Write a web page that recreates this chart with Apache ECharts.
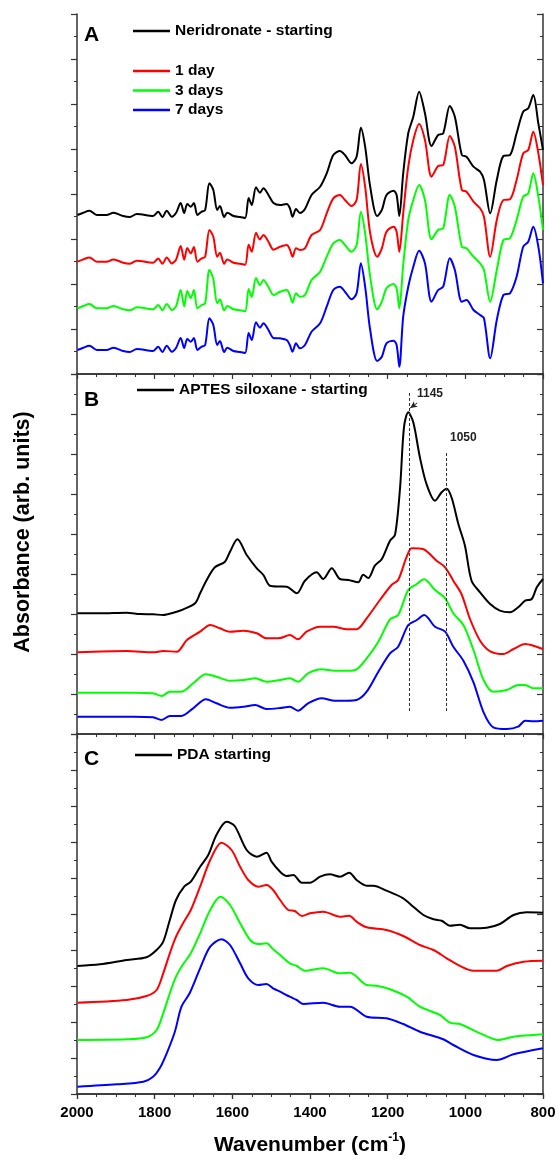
<!DOCTYPE html>
<html>
<head>
<meta charset="utf-8">
<script src="https://cdn.jsdelivr.net/npm/echarts@6/dist/echarts.min.js"></script>
<style>
html,body{margin:0;padding:0;background:#fff;}
#chart{width:559px;height:1160px;}
</style>
</head>
<body>
<div id="chart"></div>
<script>
// ---------- DATA (absorbance, arbitrary units; x = wavenumber cm-1) ----------
const xTicks = [2000, 1800, 1600, 1400, 1200, 1000, 800];

// Panel A : Neridronate
const wnA = [1999,1984,1968,1949,1924,1906,1881,1864,1846,1804,1791,1780,1769,1756,1745,1733,1724,1716,1707,1699,
  1690,1679,1670,1659,1649,1639,1632,1621,1613,1597,1580,1567,1558,1550,1539,1529,1520,1507,1494,
  1477,1460,1452,1445,1436,1426,1413,1396,1374,1357,1340,1323,1310,1293,1280,1269,1258,1245,1227,1215,
  1203,1185,1177,1170,1160,1147,1134,1119,1104,1087,1070,1057,1040,1027,1009,997,979,962,952,936,
  919,902,885,868,851,838,825,812,800];
const neriStart = [159,161.3,163.3,159,159,161.3,158,157,160,158,162.3,157,163.3,157.3,161,171,161,170,167.3,171,
  159,162.3,164,190.7,184,164,168,157,161.3,158,157,156,176,169,186.7,181.3,185.7,179,171,
  169,170,166,157.3,165,161,165,179,187.3,200.7,219,223,219,210.7,217.3,246.3,227.3,187.3,158,164,
  179,183.3,179,158,200.7,240.7,257.3,282.3,260.7,228,239,240.7,268,257.3,219,217.3,207.3,202.3,194,160.7,
  194,218,219,240.7,262.3,265.7,279,250.7,224];
const neri1d = [112.3,114.6,116.6,112.3,112.3,114.6,111.3,110.3,113.3,111.3,115.6,110.3,116.6,110.6,114.3,128,114.3,126,120.6,127,
  112.3,115.6,117.3,144,137.3,117.3,121.3,110.3,114.6,111.3,110.3,109.3,129.3,122.3,141.3,134.6,139,132.3,124.3,
  127.3,129,124.7,117.3,125.7,124,125.7,139,144,160.7,175.7,179,174,168,174,210,187.3,140.7,117.3,125.7,
  142.3,147.3,142.3,122.3,160.7,207.3,234,250,234,197.3,208,209,238,227.3,184,182.3,172.3,165.7,157.3,117.3,
  154,174,174.7,194,220.7,224,242.3,220.7,189];
const neri3d = [65.7,68,70,65.7,65.7,68,64.7,63.7,66.7,64.7,69,63.7,70,64,67.7,84,67.7,83,76,84,
  65.7,69,70.7,104,95,70.7,74.7,63.7,68,64.7,63.7,62.7,85,77,96,89,94,87,79,
  82.3,84,79,71.3,80.7,77.3,79,94,102.3,117.3,130.7,134,129,122.3,129,162.3,140.7,97.3,64.7,72.3,
  85.7,90,85.7,65.7,109,154,174,189,174,134.7,144,145.7,179,167.3,127.3,125.7,117.3,110.7,104,72.3,
  104,134,135.7,154,177.3,180.7,200.7,177.3,144];
const neri7d = [24,26.3,28.3,24,24,26.3,23,22,25,23,27.3,22,28.3,22.3,26,36,26,35,32.3,36,
  24,27.3,29,55.7,49,29,33,22,26.3,23,22,21,41,34,51.7,46.3,50.7,44,36,
  35.7,34,29,22.3,30.7,25.7,29,42.3,50.7,67.3,84,87.3,82.3,74.7,80.7,110.7,87.3,44,13,17.3,
  30.7,33.3,29,7.3,57.3,87.3,107.3,123.3,110.7,72.3,84,87.3,115.7,104,72.3,74,64,59,55.7,15.7,
  54,79,80.7,97.3,127.3,132.3,147.3,127.3,90.7];

// Panel B : APTES siloxane
const wnBstart = [1999,1941,1872,1838,1804,1778,1752,1726,1696,1683,1666,1645,1619,1606,1587,1563,1537,1520,1503,1477,
  1460,1434,1413,1383,1366,1344,1323,1301,1276,1263,1250,1233,1215,1194,1181,1168,1158,1147,1134,1117,
  1100,1078,1061,1048,1035,1018,1001,984,962,936,911,885,864,846,829,816,800];
const aptesStart = [120.7,120.7,121.3,120,119.7,119,121.3,124.7,130.7,140.7,154,166.7,172.3,182.3,194.7,179,165.7,159,148.3,147.5,
  147.3,140.7,153.3,161.7,155,165.7,155,154,151.7,159.3,156,168.3,175,193.3,199.3,246.7,306.7,321.7,311.7,276.7,
  250,233.3,241.7,245.3,236,210,188.3,153.3,141.7,130,123.3,121.7,126.7,133.3,135,146.7,155];
const wnB1d = [1999,1872,1804,1778,1743,1717,1683,1657,1632,1606,1571,1537,1512,1477,1452,1431,1409,1374,1340,1305,
  1280,1254,1220,1190,1173,1151,1138,1108,1074,1052,1031,1010,988,962,936,902,876,846,825,800];
const aptes1d = [81.7,83,81.7,83,82.3,94,102.3,109,105.7,102.3,103.3,100.7,95.7,96,99,94.7,102.3,107.3,107.3,104.7,
  104.7,115.7,134,149,154,177.3,185.7,184.7,173.3,166.7,153.3,140,115,93.3,82.7,80,85,90,88.3,85];
const wnB37d = [1999,1855,1804,1782,1761,1731,1701,1668,1641,1606,1571,1541,1512,1477,1452,1431,1405,1370,1336,1305,
  1280,1254,1224,1194,1173,1147,1125,1106,1078,1052,1031,1005,979,953,928,893,864,846,825,800];
const aptes3d = [41.3,41.3,40.7,38,42.3,42.3,50.7,59.7,57.3,53.3,54,55.7,52.3,54,55.7,52.3,60.7,64.7,63.3,63.3,
  64.7,75.7,92.3,114.7,119,144,150,154.7,144,135.7,120.7,109,84,54,42.3,44,49,49,45.7,45.7];
const aptes7d = [17.3,17.3,16.7,14,18,18,25.7,34.7,30.7,26.3,27.3,29,25,26,27.3,23.3,30.7,35.7,33.3,33.3,
  34,42.3,62.3,80.7,87.3,109,114,119,107.3,102.3,87.3,73.3,51.7,21.7,6.7,5,7.3,13.3,12.7,13.3];
const peakMarks = [1145, 1050];

// Panel C : PDA
const wnCstart = [1999,1941,1872,1821,1795,1778,1761,1745,1724,1707,1683,1662,1641,1615,1594,1563,1537,1512,1499,1477,
  1460,1443,1421,1400,1374,1349,1323,1299,1280,1254,1237,1203,1160,1134,1108,1082,1061,1040,1014,988,
  945,911,876,842,800];
const pdaStart = [128,129.7,134,136.7,144,152.3,174,194,207.3,212.3,227.3,239,259,272.3,268,244,237.3,241.3,232.3,222.3,
  218,219,211.3,211.3,217.3,219.7,217.3,221.3,214,208.3,208.3,203.3,195.7,187.3,179,174.7,173.3,168.3,169.3,165.7,
  166.3,170,179,181.7,181.3];
const wnC1d = [1999,1872,1821,1795,1778,1761,1745,1728,1707,1683,1657,1628,1602,1580,1559,1533,1512,1495,1477,1456,
  1439,1421,1400,1366,1323,1299,1280,1254,1203,1160,1117,1082,1048,1010,979,919,893,850,800];
const pda1d = [91.3,94,98,104,120.7,140.7,157.3,170,184,207.3,234,251.3,244,227.3,214,207.3,209,204,194,184,
  183,178,180.7,182.3,177.3,178.3,172.3,166.7,164,158,149,144,135.7,127.3,123.3,123.3,128,132.3,133.3];
const wnC3d = [1999,1872,1821,1795,1778,1761,1745,1728,1707,1683,1657,1631,1606,1580,1554,1533,1512,1495,1477,1452,
  1434,1413,1366,1323,1297,1254,1229,1194,1151,1117,1065,1040,1014,962,915,876,800];
const pda3d = [54,54.7,56.7,64,80.7,100.7,117.3,129,140.7,160.7,184,197.3,189,170.7,154,150,150.7,144.7,139,130.7,
  128,123.3,125.7,120.7,121.3,109,108.3,104.7,97.3,87.3,79,71.3,70,60.7,54,57.3,59.7];
const wnC7d = [1999,1898,1829,1804,1787,1769,1748,1731,1710,1683,1657,1628,1606,1580,1559,1533,1512,1495,1477,1452,
  1434,1417,1366,1323,1297,1254,1203,1160,1117,1057,1031,979,919,876,800];
const pda7d = [7.3,9.7,12.3,17.3,25.7,40.7,62.3,87.3,100.7,125.7,147.3,154.7,149,130.7,115.7,109,110,105.7,102.3,97.3,
  94,90,91.3,87.3,87.3,77.3,75.7,70,62.3,54.7,49,39,34,39.7,45.7];

// ---------- CHART ----------
const FONT = 'Liberation Sans, Arial, Helvetica, sans-serif';
const COLORS = {start:'#000000', d1:'#ff0000', d3:'#00ff00', d7:'#0000ff'};
const pair = (xs, ys) => xs.map((x, i) => [x, ys[i]]);
const yIntervals = [45, 40, 36];
const axisLine = {show:true, lineStyle:{color:'#333', width:1.5}};

const grids = [0,1,2].map(i => ({left:77, right:16, top:14 + 360*i, height:360}));

const xAxes = [];
const yAxes = [];
[0,1,2].forEach(i => {
  const isLast = i === 2;
  xAxes.push({
    type:'value', gridIndex:i, position:'bottom', min:800, max:2000, interval:200, inverse:true,
    axisLine, splitLine:{show:false},
    axisTick:{show:isLast, inside:false, length:5, lineStyle:{color:'#333', width:1.2}},
    minorTick:{show:isLast, splitNumber:4, length:3, lineStyle:{color:'#333', width:1}},
    axisLabel:{show:isLast, margin:11, color:'#000', fontFamily:FONT, fontWeight:'bold', fontSize:15,
      customValues: xTicks, formatter: v => String(v)},
    name: isLast ? 'Wavenumber (cm{sup|-1})' : '',
    nameLocation:'middle', nameGap:38,
    nameTextStyle:{color:'#000', fontFamily:FONT, fontWeight:'bold', fontSize:21, lineHeight:26,
      rich:{sup:{fontFamily:FONT, fontWeight:'bold', fontSize:12, verticalAlign:'top', lineHeight:26, padding:[0,0,11,0]}}}
  });
  xAxes.push({
    type:'value', gridIndex:i, position:'top', min:800, max:2000, interval:200, inverse:true,
    axisLine, splitLine:{show:false},
    axisTick:{show:true, inside:true, length:5, lineStyle:{color:'#333', width:1.2}},
    minorTick:{show:true, splitNumber:4, length:3, lineStyle:{color:'#333', width:1}},
    axisLabel:{show:false}
  });
  yAxes.push({
    type:'value', gridIndex:i, position:'left', min:0, max:360, interval:yIntervals[i],
    axisLine, splitLine:{show:false},
    axisTick:{show:true, inside:false, length:6, lineStyle:{color:'#333', width:1.2}},
    minorTick:{show:true, splitNumber:2, length:3, lineStyle:{color:'#333', width:1}},
    axisLabel:{show:false}
  });
  yAxes.push({
    type:'value', gridIndex:i, position:'right', min:0, max:360, interval:yIntervals[i],
    axisLine, splitLine:{show:false},
    axisTick:{show:true, inside:true, length:6, lineStyle:{color:'#333', width:1.2}},
    minorTick:{show:true, splitNumber:2, length:3, lineStyle:{color:'#333', width:1}},
    axisLabel:{show:false}
  });
});

function line(name, panel, data, color, extra) {
  return Object.assign({
    name, type:'line', xAxisIndex: 2*panel, yAxisIndex: 2*panel, data,
    showSymbol:false, symbol:'none', smooth:0.3, silent:true, animation:false,
    lineStyle:{color, width:2}, itemStyle:{color}, z:3
  }, extra || {});
}

const dashStyle = {type:[3,2], color:'#333', width:1};
const markLines = {
  silent:true, symbol:'none', label:{show:false}, animation:false,
  data:[
    [{coord:[peakMarks[0], 341], lineStyle:dashStyle}, {coord:[peakMarks[0], 22]}],
    [{coord:[peakMarks[1], 281], lineStyle:dashStyle}, {coord:[peakMarks[1], 22]}],
    [{coord:[1124, 331], symbol:'none', lineStyle:{type:'solid', color:'#222', width:1}},
     {coord:[1142, 326], symbol:'arrow', symbolSize:[5,7]}]
  ]
};

const series = [
  line('Neridronate - starting', 0, pair(wnA, neriStart), COLORS.start),
  line('1 day', 0, pair(wnA, neri1d), COLORS.d1),
  line('3 days', 0, pair(wnA, neri3d), COLORS.d3),
  line('7 days', 0, pair(wnA, neri7d), COLORS.d7),
  line('APTES siloxane - starting', 1, pair(wnBstart, aptesStart), COLORS.start, {markLine: markLines}),
  line('APTES 1 day', 1, pair(wnB1d, aptes1d), COLORS.d1),
  line('APTES 3 days', 1, pair(wnB37d, aptes3d), COLORS.d3),
  line('APTES 7 days', 1, pair(wnB37d, aptes7d), COLORS.d7),
  line('PDA starting', 2, pair(wnCstart, pdaStart), COLORS.start),
  line('PDA 1 day', 2, pair(wnC1d, pda1d), COLORS.d1),
  line('PDA 3 days', 2, pair(wnC3d, pda3d), COLORS.d3),
  line('PDA 7 days', 2, pair(wnC7d, pda7d), COLORS.d7)
];

const legendBase = {
  icon:'rect', itemWidth:37, itemHeight:2.5, selectedMode:false, padding:0,
  textStyle:{color:'#000', fontFamily:FONT, fontWeight:'bold', fontSize:15.5, lineHeight:17}
};

const option = {
  backgroundColor:'#ffffff',
  animation:false,
  grid: grids,
  xAxis: xAxes,
  yAxis: yAxes,
  legend: [
    Object.assign({}, legendBase, {data:['Neridronate - starting'], left:133, top:22.5}),
    Object.assign({}, legendBase, {data:['1 day','3 days','7 days'], orient:'vertical', left:133, top:62.5, itemGap:2.5}),
    Object.assign({}, legendBase, {data:['APTES siloxane - starting'], left:137, top:381.5}),
    Object.assign({}, legendBase, {data:['PDA starting'], left:135, top:746.5})
  ],
  graphic: [
    {type:'text', x:84, y:35, style:{text:'A', font:'bold 21px ' + FONT, fill:'#000', textVerticalAlign:'middle'}},
    {type:'text', x:84, y:400, style:{text:'B', font:'bold 21px ' + FONT, fill:'#000', textVerticalAlign:'middle'}},
    {type:'text', x:84, y:759, style:{text:'C', font:'bold 21px ' + FONT, fill:'#000', textVerticalAlign:'middle'}},
    {type:'text', x:417, y:394, style:{text:'1145', font:'bold 12px ' + FONT, fill:'#222', textVerticalAlign:'middle'}},
    {type:'text', x:450, y:438, style:{text:'1050', font:'bold 12px ' + FONT, fill:'#222', textVerticalAlign:'middle'}},
    {type:'text', x:23, y:532, rotation:Math.PI/2,
      style:{text:'Absorbance (arb. units)', font:'bold 21.5px ' + FONT, fill:'#000', textAlign:'center', textVerticalAlign:'middle'}}
  ],
  series
};

const chart = echarts.init(document.getElementById('chart'), null, {renderer:'canvas'});
chart.setOption(option);
</script>
</body>
</html>
